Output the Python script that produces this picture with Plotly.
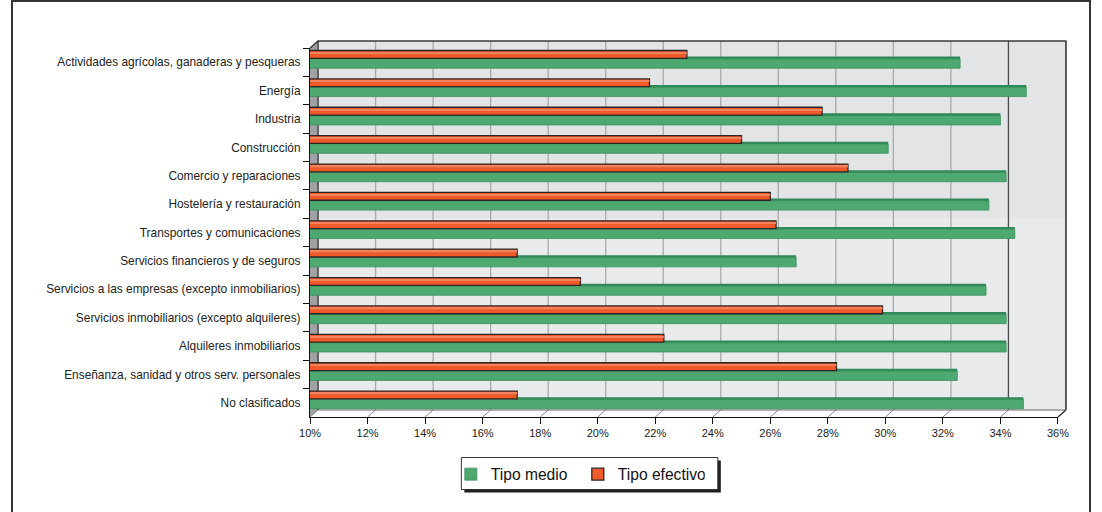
import plotly.graph_objects as go

# Sector data (percent)
categories = [
    "Actividades agrícolas, ganaderas y pesqueras",
    "Energía",
    "Industria",
    "Construcción",
    "Comercio y reparaciones",
    "Hostelería y restauración",
    "Transportes y comunicaciones",
    "Servicios financieros y de seguros",
    "Servicios a las empresas (excepto inmobiliarios)",
    "Servicios inmobiliarios (excepto alquileres)",
    "Alquileres inmobiliarios",
    "Enseñanza, sanidad y otros serv. personales",
    "No clasificados",
]
tipo_medio = [32.6, 34.9, 34.0, 30.1, 34.2, 33.6, 34.5, 26.9, 33.5, 34.2, 34.2, 32.5, 34.8]
tipo_efectivo = [23.1, 21.8, 27.8, 25.0, 28.7, 26.0, 26.2, 17.2, 19.4, 29.9, 22.3, 28.3, 17.2]

x_tick_vals = [10, 12, 14, 16, 18, 20, 22, 24, 26, 28, 30, 32, 34, 36]
x_tick_text = ["10%", "12%", "14%", "16%", "18%", "20%", "22%", "24%",
               "26%", "28%", "30%", "32%", "34%", "36%"]

# ---- geometry (page pixels) ----
W, H = 1102, 512
PAGE_OFF, PAGE_W = 12.0, 1078.0   # horizontal extent the figure occupies on the page
X0, X1 = 310.5, 1057.0      # front plane, 10% .. 36%
Y_TOP, Y_BOT = 48.0, 417.0   # front plane top / bottom
DX, DY = 8.0, 7.0            # depth offset of the back wall
XMIN, XMAX = x_tick_vals[0], x_tick_vals[-1]
DDX = DX / (X1 - X0) * (XMAX - XMIN)   # depth offset in data units


def px(x):
    return (x - PAGE_OFF) / PAGE_W


def py(y):
    return 1 - y / H


def path(points):
    return "M " + " L ".join(f"{px(x):.5f},{py(y):.5f}" for x, y in points) + " Z"


WALL_L, WALL_R = X0 + DX, X1 + DX
WALL_T, WALL_B = Y_TOP - DY, Y_BOT - DY
WALL_MID = 218

# legend box
LEG_L, LEG_T, LEG_R, LEG_B = 461.5, 457.5, 717.5, 489.5

fig = go.Figure()

# green bars: darker top face, then front face
fig.add_trace(go.Bar(
    y=categories, x=tipo_medio, orientation="h",
    width=0.10, offset=-0.197,
    marker=dict(color="#2F8A58", line=dict(width=0)),
    showlegend=False, hoverinfo="skip",
))
fig.add_trace(go.Bar(
    y=categories, x=tipo_medio, orientation="h", name="Tipo medio",
    width=0.327, offset=-0.116,
    marker=dict(color="#4DA970", line=dict(width=0.8, color="#3B8F5E")),
))
# red cylinders
fig.add_trace(go.Bar(
    y=categories, x=tipo_efectivo, orientation="h", name="Tipo efectivo",
    width=0.275, offset=-0.412,
    marker=dict(color="#EE5A29", line=dict(width=1.3, color="#2E2624")),
))
fig.add_trace(go.Bar(
    y=categories, x=tipo_efectivo, orientation="h",
    width=0.05, offset=-0.35,
    marker=dict(color="#F3835E", line=dict(width=0)),
    showlegend=False, hoverinfo="skip",
))

shapes = []
# outer frame
shapes.append(dict(type="rect", xref="paper", yref="paper",
                   x0=px(13), x1=px(1089), y0=py(1), y1=py(530),
                   line=dict(color="#333333", width=2), layer="below"))
# back wall (two tones)
shapes.append(dict(type="rect", xref="paper", yref="paper",
                   x0=px(WALL_L), x1=px(WALL_R), y0=py(WALL_MID), y1=py(WALL_T),
                   fillcolor="#E3E4E6", line=dict(width=0), layer="below"))
shapes.append(dict(type="rect", xref="paper", yref="paper",
                   x0=px(WALL_L), x1=px(WALL_R), y0=py(WALL_B), y1=py(WALL_MID),
                   fillcolor="#E9EAEC", line=dict(width=0), layer="below"))
# left side wall
shapes.append(dict(type="path", xref="paper", yref="paper",
                   path=path([(X0, Y_TOP), (WALL_L, WALL_T), (WALL_L, WALL_B), (X0, Y_BOT)]),
                   fillcolor="#9FA1A4", line=dict(width=0), layer="below"))
# gridlines on the back wall
for v in x_tick_vals[1:-1]:
    shapes.append(dict(type="line", xref="x", yref="paper",
                       x0=v + DDX, x1=v + DDX, y0=py(WALL_B), y1=py(WALL_T),
                       line=dict(color="#4A4A4A" if v == 34 else "#A9A9AB", width=1.3),
                       layer="below"))
# floor diagonals
for v in x_tick_vals:
    shapes.append(dict(type="line", xref="x", yref="paper",
                       x0=v, x1=v + DDX, y0=py(Y_BOT), y1=py(WALL_B),
                       line=dict(color="#8A8A8A", width=1), layer="below"))
# wall edges
shapes.append(dict(type="path", xref="paper", yref="paper",
                   path="M {:.5f},{:.5f} L {:.5f},{:.5f} L {:.5f},{:.5f} L {:.5f},{:.5f}".format(
                       px(X0), py(Y_TOP), px(WALL_L), py(WALL_T),
                       px(WALL_R), py(WALL_T), px(WALL_R), py(WALL_B)),
                   line=dict(color="#3A3A3A", width=1.6), layer="below"))
shapes.append(dict(type="line", xref="paper", yref="paper",
                   x0=px(WALL_L), x1=px(WALL_L), y0=py(WALL_B), y1=py(WALL_T),
                   line=dict(color="#2A2A2A", width=1.2), layer="below"))
shapes.append(dict(type="line", xref="paper", yref="paper",
                   x0=px(WALL_L), x1=px(WALL_R), y0=py(WALL_B), y1=py(WALL_B),
                   line=dict(color="#6A6A6A", width=1), layer="below"))
shapes.append(dict(type="line", xref="paper", yref="paper",
                   x0=px(X1), x1=px(WALL_R), y0=py(Y_BOT), y1=py(WALL_B),
                   line=dict(color="#222222", width=1.2), layer="below"))
# legend frame with drop shadow
shapes.append(dict(type="rect", xref="paper", yref="paper",
                   x0=px(LEG_L + 3), x1=px(LEG_R + 3), y0=py(LEG_B + 3), y1=py(LEG_T + 3),
                   fillcolor="#1E1E1E", line=dict(width=0), layer="below"))
shapes.append(dict(type="rect", xref="paper", yref="paper",
                   x0=px(LEG_L), x1=px(LEG_R), y0=py(LEG_B), y1=py(LEG_T),
                   fillcolor="white", line=dict(color="#333333", width=1), layer="below"))

fig.update_layout(
    width=W, height=H,
    margin=dict(l=0, r=0, t=0, b=0),
    paper_bgcolor="white",
    plot_bgcolor="rgba(0,0,0,0)",
    barmode="overlay",
    font=dict(family="Liberation Sans, Arial, sans-serif", size=11, color="#222222"),
    xaxis=dict(
        domain=[px(X0), px(X1)], range=[XMIN, XMAX],
        tickvals=x_tick_vals, ticktext=x_tick_text,
        ticks="outside", ticklen=6, tickcolor="#111111", tickwidth=1,
        showline=True, linecolor="#111111", linewidth=1.2,
        showgrid=False, zeroline=False, fixedrange=True,
        tickfont=dict(size=11),
    ),
    yaxis=dict(
        domain=[py(Y_BOT), py(Y_TOP)],
        type="category", categoryorder="array", categoryarray=categories,
        range=[len(categories) - 0.5, -0.5],
        tickson="boundaries", ticks="outside", ticklen=6,
        tickcolor="#111111", tickwidth=1,
        showline=True, linecolor="#111111", linewidth=1.2,
        showgrid=False, zeroline=False, fixedrange=True,
        tickfont=dict(size=11.9), ticklabelstandoff=6,
    ),
    legend=dict(
        orientation="h", x=px(451), y=py((LEG_T + LEG_B) / 2 + 1),
        xanchor="left", yanchor="middle",
        bgcolor="rgba(0,0,0,0)", borderwidth=0,
        font=dict(size=15.6, color="#111111"),
        entrywidth=82, entrywidthmode="pixels",
    ),
    shapes=shapes,
    showlegend=True,
)

fig.write_html("out.html")
